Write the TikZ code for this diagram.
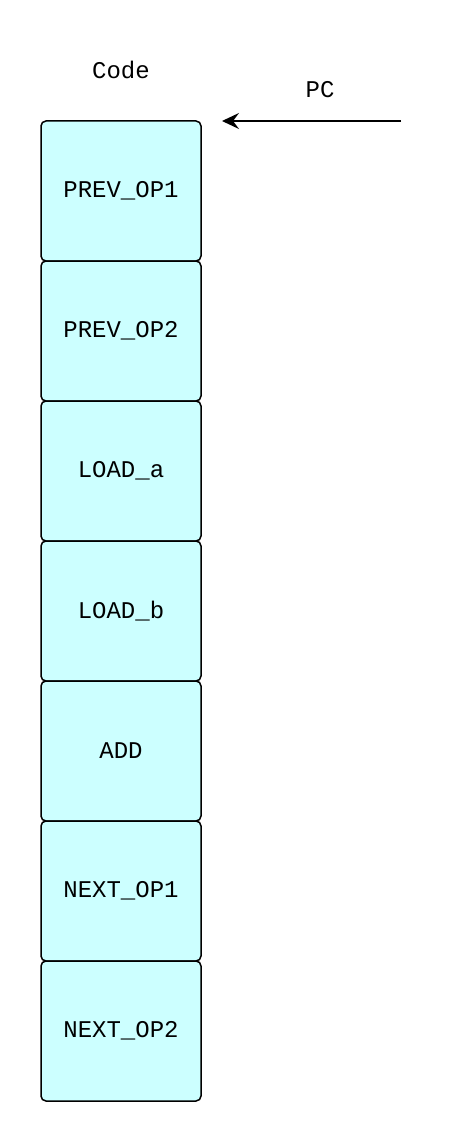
\documentclass[tikz,border=0pt]{standalone}
\usepackage{fontspec}
\setmonofont{Liberation Mono}
\usetikzlibrary{arrows.meta}
\definecolor{cellfill}{HTML}{CCFFFF}
\tikzset{
	cell/.style={draw, line width=1.5pt, fill=cellfill, rounded corners=5pt,
		minimum width=160pt, minimum height=140pt, inner sep=0pt,
		font=\ttfamily\fontsize{24}{26}\selectfont},
	lbl/.style={font=\ttfamily\fontsize{24}{26}\selectfont}
}

\begin{document}
\begin{tikzpicture}[x=1pt, y=-1pt]
	
	\useasboundingbox (0,0) rectangle (458,1142);
	
	\node [lbl] (code) at (121,70){Code};
	\node [lbl] (pc) at (320,90){PC};
	
	\node [cell] (P1) at (121,191){PREV\_OP1};
	\node [cell] (P2) at (121,331){PREV\_OP2};
	\node [cell] (LA) at (121,471){LOAD\_a};
	\node [cell] (LB) at (121,611){LOAD\_b};
	\node [cell] (AD) at (121,751){ADD};
	\node [cell] (N1) at (121,891){NEXT\_OP1};
	\node [cell] (N2) at (121,1031){NEXT\_OP2};
	
	\coordinate (pcstart) at (401,121);
	\coordinate (pcend) at (222,121);
	
	\draw[-{Stealth[length=17pt,width=16pt,inset=6pt]}, line width=1.5pt] (pcstart) -- (pcend);
	
\end{tikzpicture}
\end{document}
